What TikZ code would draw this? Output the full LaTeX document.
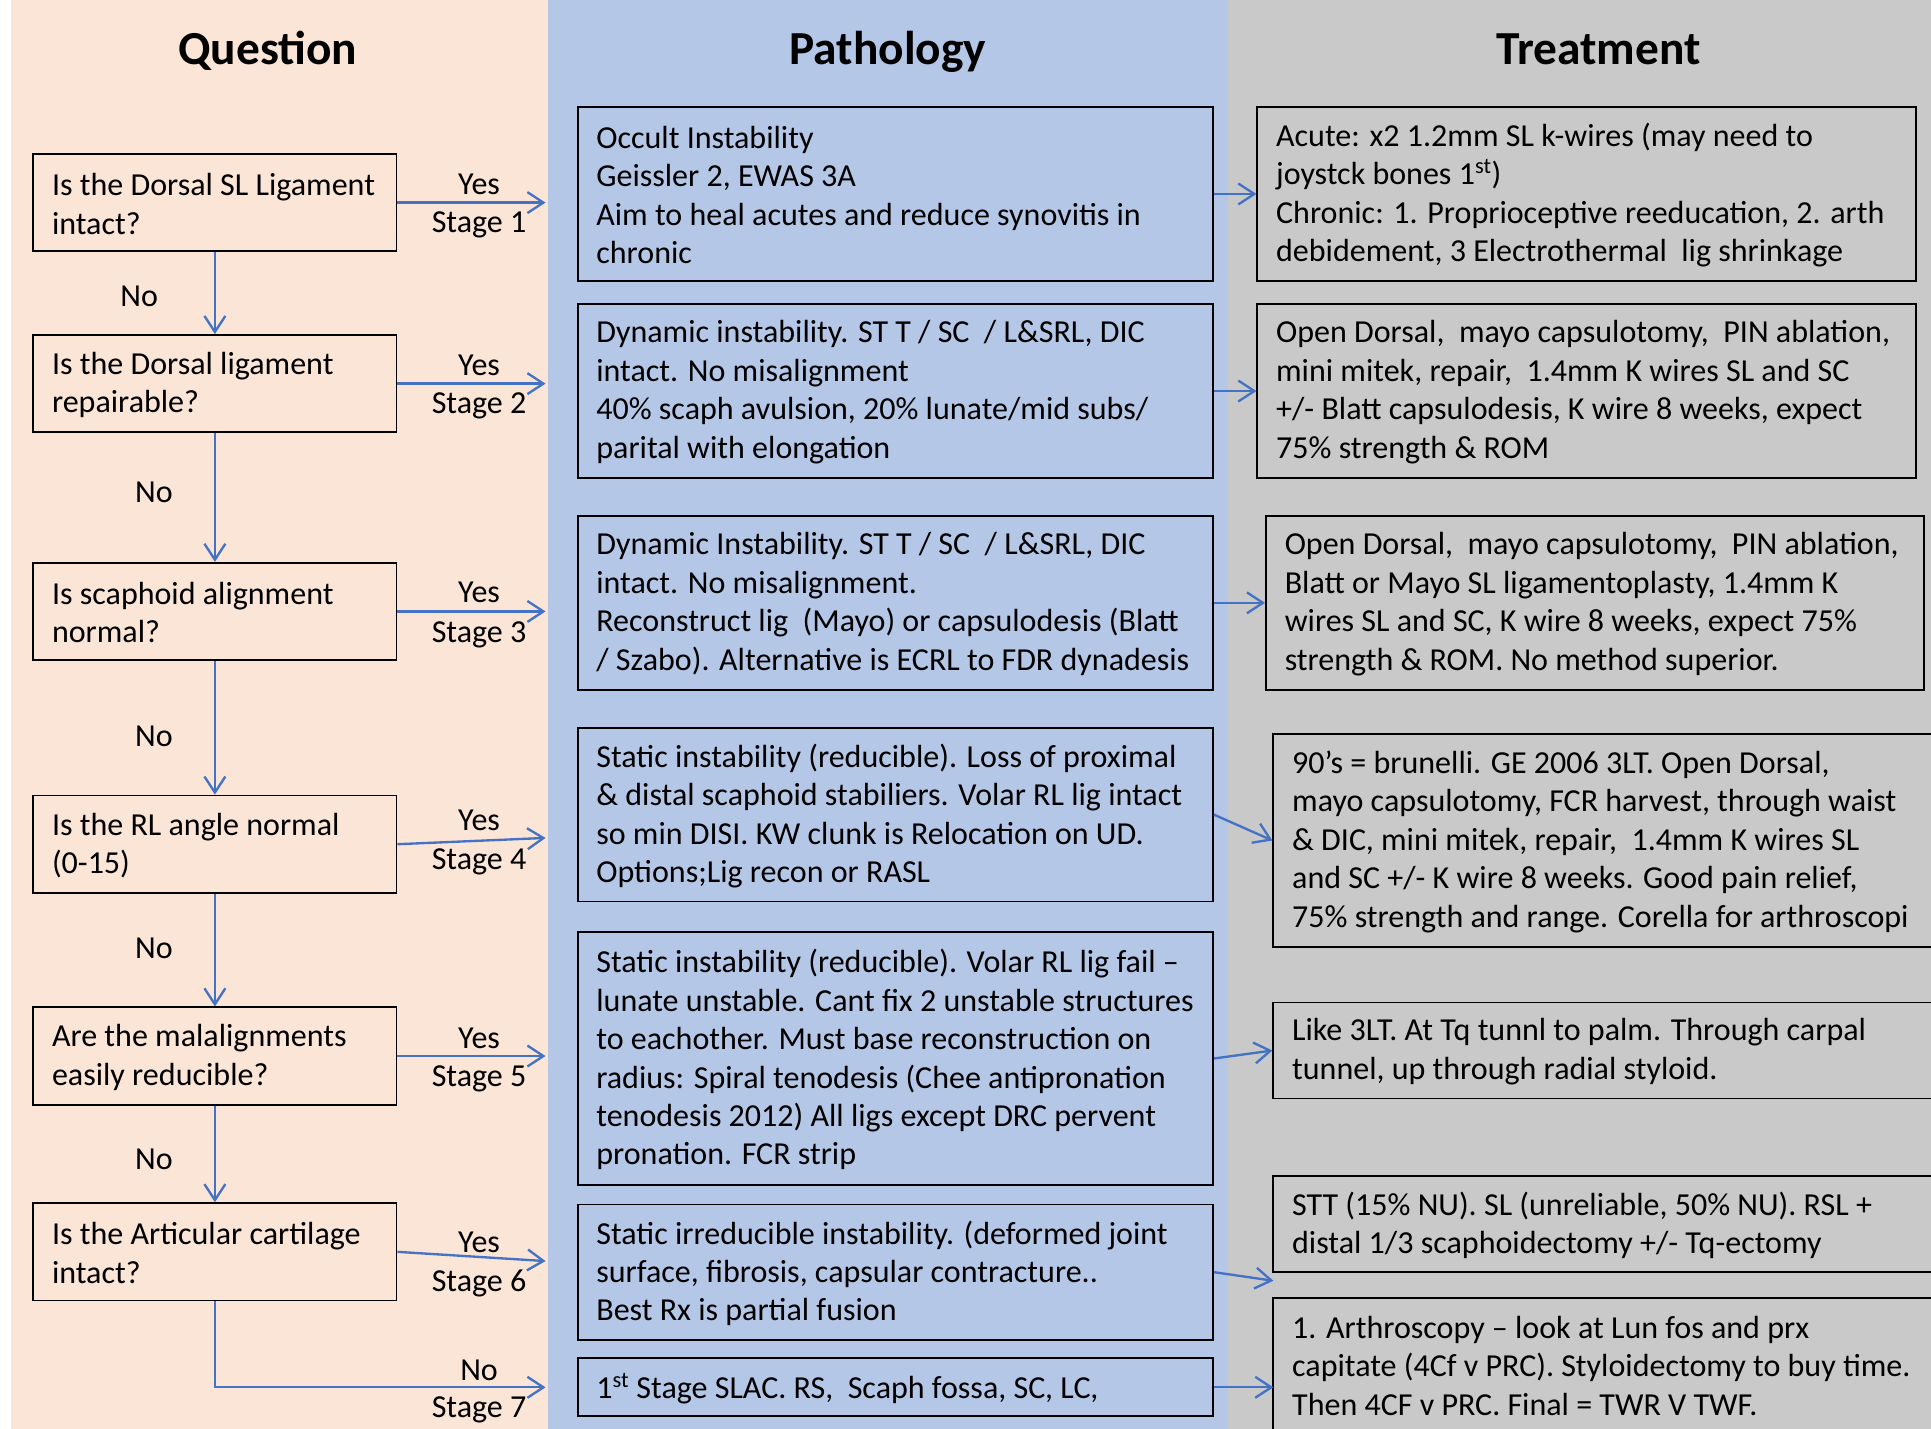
\documentclass[tikz,border=0pt]{standalone}
\usepackage{fontspec}
\setmainfont{Carlito}
\usetikzlibrary{arrows.meta}

\definecolor{questionbg}{HTML}{FBE5D6}
\definecolor{pathologybg}{HTML}{B4C7E7}
\definecolor{treatmentbg}{HTML}{C9C9C9}
\definecolor{flowblue}{HTML}{4472C4}

% framed box (named #1) spanning (#2,#3)-(#4,#5), with left-aligned text #6
\newcommand\flowbox[6]{%
  \node[frame, minimum width={#4-#2}, minimum height={#5-#3}] (#1) at ({(#2+#4)/2},{(#3+#5)/2}) {};
  \node[boxtext] (#1-text) at ([xshift=15.8pt,yshift=-1pt]#1.west) {#6};
}

\begin{document}
\begin{tikzpicture}[x=1pt,y=-1pt,
  frame/.style={draw=black, line width=1.5pt, rectangle, inner sep=0pt},
  boxtext/.style={anchor=west, align=left, inner sep=0pt, font=\fontsize{26}{31.2}\selectfont},
  lbl/.style={anchor=base, inner sep=0pt, font=\fontsize{26}{31.2}\selectfont},
  heading/.style={anchor=base, inner sep=0pt, font=\fontsize{38.5}{46}\selectfont\bfseries},
  flow/.style={draw=flowblue, line width=1.9pt, -{Straight Barb[length=13pt,width=17pt]}}]

\clip (0,0) rectangle (1568,1160);

% column backgrounds
\fill[white] (0,0) rectangle (1568,1160);
\fill[questionbg] (9,0) rectangle (445,1160);
\fill[pathologybg] (445,0) rectangle (997,1160);
\fill[treatmentbg] (997,0) rectangle (1568,1160);

% headings
\node[heading] (hq) at (217.5,52) {Question};
\node[heading] (hp) at (721,52) {Pathology};
\node[heading] (ht) at (1298,52) {Treatment};

% questions
\flowbox{q1}{27}{125}{322}{204}{Is the Dorsal SL Ligament\\intact?}
\flowbox{q2}{27}{272}{322}{351}{Is the Dorsal ligament\\repairable?}
\flowbox{q3}{27}{457}{322}{536}{Is scaphoid alignment\\normal?}
\flowbox{q4}{27}{646}{322}{725}{Is the RL angle normal\\(0-15)}
\flowbox{q5}{27}{818}{322}{897}{Are the malalignments\\easily reducible?}
\flowbox{q6}{27}{977}{322}{1056}{Is the Articular cartilage\\intact?}

% pathology
\flowbox{p1}{469}{87}{985}{228}{Occult Instability\\Geissler 2, EWAS 3A\\Aim to heal acutes and reduce synovitis in\\chronic}
\flowbox{p2}{469}{247}{985}{388}{Dynamic instability. ST T / SC \ / L\&SRL, DIC\\intact. No misalignment\\40\% scaph avulsion, 20\% lunate/mid subs/\\parital with elongation}
\flowbox{p3}{469}{419}{985}{560}{Dynamic Instability. ST T / SC \ / L\&SRL, DIC\\intact. No misalignment.\\Reconstruct lig \ (Mayo) or capsulodesis (Blatt\\/ Szabo). Alternative is ECRL to FDR dynadesis}
\flowbox{p4}{469}{591}{985}{732}{Static instability (reducible). Loss of proximal\\\& distal scaphoid stabiliers. Volar RL lig intact\\so min DISI. KW clunk is Relocation on UD.\\Options;Lig recon or RASL}
\flowbox{p5}{469}{757}{985}{962}{Static instability (reducible). Volar RL lig fail –\\lunate unstable. Cant fix 2 unstable structures\\to eachother. Must base reconstruction on\\radius: Spiral tenodesis (Chee antipronation\\tenodesis 2012) All ligs except DRC pervent\\pronation. FCR strip}
\flowbox{p6}{469}{978}{985}{1088}{Static irreducible instability. (deformed joint\\surface, fibrosis, capsular contracture..\\Best Rx is partial fusion}
\flowbox{p7}{469}{1103}{985}{1150}{1\textsuperscript{st} Stage SLAC. RS, \ Scaph fossa, SC, LC,}

% treatment
\flowbox{t1}{1021}{87}{1556}{228}{Acute: x2 1.2mm SL k-wires (may need to\\joystck bones 1\textsuperscript{st})\\Chronic: 1. Proprioceptive reeducation, 2. arth\\debidement, 3 Electrothermal \ lig shrinkage}
\flowbox{t2}{1021}{247}{1556}{388}{Open Dorsal, \ mayo capsulotomy, \ PIN ablation,\\mini mitek, repair, \ 1.4mm K wires SL and SC\\+/- Blatt capsulodesis, K wire 8 weeks, expect\\75\% strength \& ROM}
\flowbox{t3}{1028}{419}{1562}{560}{Open Dorsal, \ mayo capsulotomy, \ PIN ablation,\\Blatt or Mayo SL ligamentoplasty, 1.4mm K\\wires SL and SC, K wire 8 weeks, expect 75\%\\strength \& ROM. No method superior.}
\flowbox{t4}{1034}{596}{1576}{769}{90’s = brunelli. GE 2006 3LT. Open Dorsal,\\mayo capsulotomy, FCR harvest, through waist\\\& DIC, mini mitek, repair, \ 1.4mm K wires SL\\and SC +/- K wire 8 weeks. Good pain relief,\\75\% strength and range. Corella for arthroscopi}
\flowbox{t5}{1034}{814}{1576}{892}{Like 3LT. At Tq tunnl to palm. Through carpal\\tunnel, up through radial styloid.}
\flowbox{t6}{1034}{955}{1576}{1033}{STT (15\% NU). SL (unreliable, 50\% NU). RSL +\\distal 1/3 scaphoidectomy +/- Tq-ectomy}
\flowbox{t7}{1034}{1054}{1576}{1162}{1. Arthroscopy – look at Lun fos and prx\\capitate (4Cf v PRC). Styloidectomy to buy time.\\Then 4CF v PRC. Final = TWR V TWF.}

% free ends of the arrows that stop at the column edge
\coordinate (e1) at (443,164.5);
\coordinate (e2) at (443,311.5);
\coordinate (e3) at (443,496.5);
\coordinate (e4) at (443,680.4);
\coordinate (e5) at (443,857.5);
\coordinate (e6) at (443,1024);
\coordinate (e7) at (443,1126.5);
\coordinate (f6) at (1034,1040);
\coordinate (f7) at (1034,1126.5);

% "No" path down the question column
\draw[flow] (q1.south) -- (q2.north);
\draw[flow] (q2.south) -- (q3.north);
\draw[flow] (q3.south) -- (q4.north);
\draw[flow] (q4.south) -- (q5.north);
\draw[flow] (q5.south) -- (q6.north);
\draw[flow] (q6.south) |- (e7);

\node[lbl] (no1) at (113,249) {No};
\node[lbl] (no2) at (125,408) {No};
\node[lbl] (no3) at (125,606) {No};
\node[lbl] (no4) at (125,778) {No};
\node[lbl] (no5) at (125,950) {No};

% "Yes" arrows into the pathology column
\draw[flow] (q1.east) -- (e1);
\draw[flow] (q2.east) -- (e2);
\draw[flow] (q3.east) -- (e3);
\draw[flow] (q4.east) -- (e4);
\draw[flow] (q5.east) -- (e5);
\draw[flow] (q6.east) -- (e6);

\node[lbl] (yes1) at (389,158) {Yes};
\node[lbl] (st1) at (389,189) {Stage 1};
\node[lbl] (yes2) at (389,305.3) {Yes};
\node[lbl] (st2) at (389,335.6) {Stage 2};
\node[lbl] (yes3) at (389,489.5) {Yes};
\node[lbl] (st3) at (389,521.5) {Stage 3};
\node[lbl] (yes4) at (389,674) {Yes};
\node[lbl] (st4) at (389,706) {Stage 4};
\node[lbl] (yes5) at (389,851) {Yes};
\node[lbl] (st5) at (389,882.5) {Stage 5};
\node[lbl] (yes6) at (389,1017) {Yes};
\node[lbl] (st6) at (389,1049) {Stage 6};
\node[lbl] (no6) at (389,1120.7) {No};
\node[lbl] (st7) at (389,1151) {Stage 7};

% pathology to treatment
\draw[flow] (p1.east) -- (t1.west);
\draw[flow] (p2.east) -- (t2.west);
\draw[flow] (p3.east) -- (t3.west);
\draw[flow] (p4.east) -- (t4.west);
\draw[flow] (p5.east) -- (t5.west);
\draw[flow] (p6.east) -- (f6);
\draw[flow] (p7.east) -- (f7);

\end{tikzpicture}
\end{document}
